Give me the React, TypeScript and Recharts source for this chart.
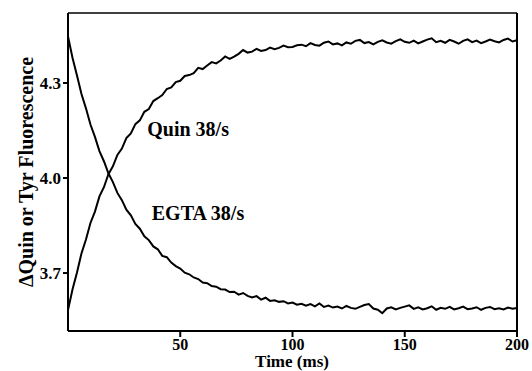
import {
    Line,
    LineChart,
    ReferenceDot,
    ReferenceLine,
    XAxis,
    YAxis,
} from "recharts";

// time points (ms)
const times = [
    0, 2, 4, 6, 8, 10, 12, 14, 16, 18, 20, 22, 24, 26, 28, 30, 32, 34, 36, 38,
    40, 42, 44, 46, 48, 50, 52, 54, 56, 58, 60, 62, 64, 66, 68, 70, 72, 74, 76, 78,
    80, 82, 84, 86, 88, 90, 92, 94, 96, 98, 100, 102, 104, 106, 108, 110, 112, 114, 116, 118,
    120, 122, 124, 126, 128, 130, 132, 134, 136, 138, 140, 142, 144, 146, 148, 150, 152, 154, 156, 158,
    160, 162, 164, 166, 168, 170, 172, 174, 176, 178, 180, 182, 184, 186, 188, 190, 192, 194, 196, 198,
    200,
];

// Quin trace (rising)
const quin = [
    3.583, 3.648, 3.702, 3.762, 3.806, 3.858, 3.894, 3.942, 3.971, 4.012, 4.037, 4.073, 4.093, 4.126, 4.141, 4.170, 4.182, 4.209, 4.218, 4.243,
    4.252, 4.262, 4.281, 4.286, 4.303, 4.307, 4.322, 4.325, 4.331, 4.348, 4.344, 4.355, 4.366, 4.362, 4.371, 4.384, 4.376, 4.383, 4.392, 4.404,
    4.396, 4.399, 4.408, 4.401, 4.404, 4.412, 4.407, 4.411, 4.418, 4.413, 4.414, 4.419, 4.421, 4.416, 4.426, 4.420, 4.418, 4.427, 4.431, 4.422,
    4.425, 4.419, 4.428, 4.424, 4.433, 4.436, 4.426, 4.429, 4.422, 4.430, 4.435, 4.428, 4.424, 4.432, 4.438, 4.430, 4.427, 4.434, 4.425, 4.431,
    4.437, 4.441, 4.429, 4.433, 4.427, 4.436, 4.431, 4.424, 4.433, 4.438, 4.429, 4.434, 4.426, 4.431, 4.437, 4.432, 4.428, 4.436, 4.440, 4.431,
    4.435,
];

// EGTA trace (falling)
const egta = [
    4.447, 4.380, 4.324, 4.265, 4.220, 4.169, 4.130, 4.085, 4.053, 4.015, 3.987, 3.953, 3.930, 3.900, 3.882, 3.855, 3.840, 3.816, 3.804, 3.784,
    3.775, 3.754, 3.750, 3.733, 3.722, 3.714, 3.701, 3.696, 3.686, 3.681, 3.670, 3.668, 3.659, 3.657, 3.649, 3.648, 3.640, 3.641, 3.632, 3.637,
    3.628, 3.623, 3.627, 3.616, 3.622, 3.612, 3.614, 3.609, 3.611, 3.604, 3.607, 3.600, 3.603, 3.597, 3.602, 3.595, 3.604, 3.593, 3.597, 3.591,
    3.594, 3.588, 3.596, 3.590, 3.587, 3.593, 3.599, 3.602, 3.588, 3.584, 3.573, 3.588, 3.592, 3.585, 3.590, 3.594, 3.598, 3.587, 3.592, 3.585,
    3.589, 3.595, 3.584, 3.590, 3.587, 3.593, 3.585, 3.589, 3.594, 3.586, 3.588, 3.592, 3.584, 3.590, 3.593, 3.586, 3.589, 3.585, 3.591, 3.587,
    3.590,
];

const xTicks = [50, 100, 150, 200];
const yTicks = [3.7, 4.0, 4.3];

const data = times.map((t, i) => ({ t, quin: quin[i], egta: egta[i] }));

const FONT = "'Liberation Serif', 'Times New Roman', serif";

const XTick = ({ x, y, payload }: any) => (
    <g>
        <line x1={x} x2={x} y1={y - 3} y2={y + 4} stroke="#000" strokeWidth={2} />
        <text
            x={x}
            y={y + 17}
            textAnchor="middle"
            fontFamily={FONT}
            fontWeight="bold"
            fontSize={16}
            fill="#000"
        >
            {payload.value}
        </text>
    </g>
);

const YTick = ({ x, y, payload }: any) => (
    <g>
        <line x1={x - 3} x2={x + 3} y1={y} y2={y} stroke="#000" strokeWidth={2} />
        <text
            x={x - 5}
            y={y}
            dy="0.35em"
            textAnchor="end"
            fontFamily={FONT}
            fontWeight="bold"
            fontSize={17}
            fill="#000"
        >
            {Number(payload.value).toFixed(1)}
        </text>
    </g>
);

const labelStyle = {
    fontFamily: FONT,
    fontWeight: "bold",
    fontSize: 20,
    fill: "#000",
};

export default function App() {
    return (
        <div style={{ position: "absolute", left: 0, top: 0, background: "#fff" }}>
            <LineChart
                width={532}
                height={371}
                data={data}
                margin={{ top: 13, right: 15, bottom: 0, left: 0 }}
            >
                <XAxis
                    dataKey="t"
                    type="number"
                    domain={[0, 200]}
                    ticks={xTicks}
                    height={40}
                    tickSize={0}
                    tickLine={false}
                    tick={<XTick />}
                    stroke="#000"
                    strokeWidth={2}
                    allowDataOverflow
                    label={{
                        content: () => (
                            <text
                                x={292}
                                y={367}
                                textAnchor="middle"
                                fontFamily={FONT}
                                fontWeight="bold"
                                fontSize={17}
                                fill="#000"
                            >
                                Time (ms)
                            </text>
                        ),
                    }}
                />
                <YAxis
                    type="number"
                    domain={[3.517, 4.521]}
                    ticks={yTicks}
                    width={68}
                    tickSize={0}
                    tickLine={false}
                    tick={<YTick />}
                    stroke="#000"
                    strokeWidth={2}
                    allowDataOverflow
                    label={{
                        content: () => (
                            <text
                                x={33}
                                y={172}
                                transform="rotate(-90 33 172)"
                                textAnchor="middle"
                                fontFamily={FONT}
                                fontWeight="bold"
                                fontSize={20}
                                fill="#000"
                            >
                                ΔQuin or Tyr Fluorescence
                            </text>
                        ),
                    }}
                />
                <ReferenceLine y={4.521} stroke="#000" strokeWidth={1.5} />
                <ReferenceLine x={200} stroke="#000" strokeWidth={2} />
                <Line
                    dataKey="egta"
                    type="linear"
                    stroke="#000"
                    strokeWidth={2}
                    dot={false}
                    isAnimationActive={false}
                />
                <Line
                    dataKey="quin"
                    type="linear"
                    stroke="#000"
                    strokeWidth={2}
                    dot={false}
                    isAnimationActive={false}
                />
                <ReferenceDot
                    x={35.3}
                    y={4.156}
                    r={0}
                    label={{ value: "Quin 38/s", position: "right", offset: 0, ...labelStyle }}
                />
                <ReferenceDot
                    x={37.3}
                    y={3.891}
                    r={0}
                    label={{ value: "EGTA 38/s", position: "right", offset: 0, ...labelStyle }}
                />
            </LineChart>
        </div>
    );
}
